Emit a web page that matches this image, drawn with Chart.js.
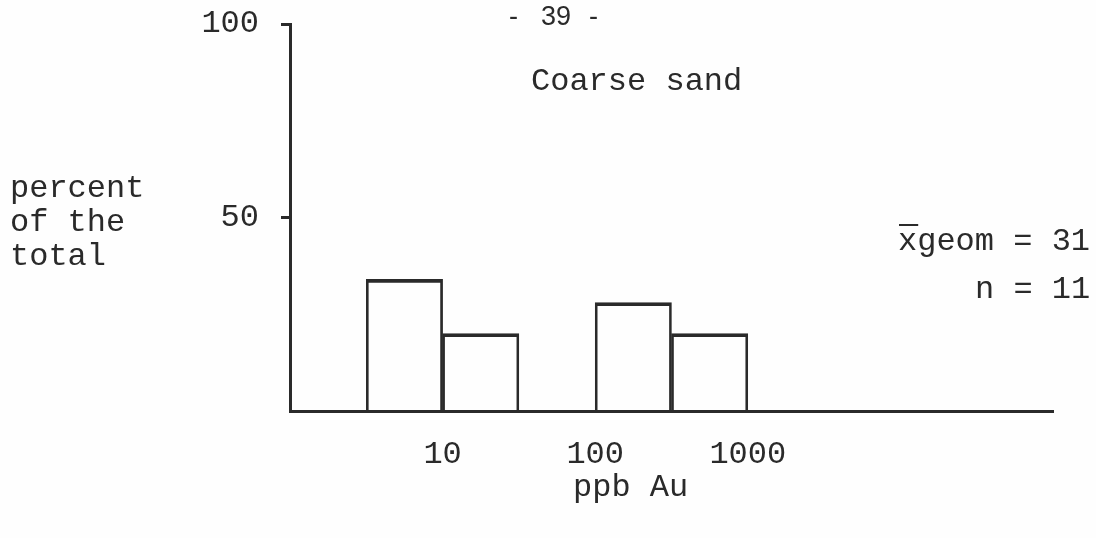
<!DOCTYPE html>
<html>
<head>
<meta charset="utf-8">
<title>Coarse sand - ppb Au</title>
<script src="https://cdn.jsdelivr.net/npm/chart.js@4.4.1/dist/chart.umd.min.js"></script>
<style>
  body { margin: 0; background: #fefefe; }
  #wrap { width: 1096px; height: 538px; }
</style>
</head>
<body>
<div id="wrap"><canvas id="histo" width="1096" height="538"></canvas></div>
<script>
// Histogram bins (ppb Au, half-decade classes) and share of samples in each
const binLow = [3.16, 10, 100, 316];
const binHigh = [10, 31.6, 316, 1000];
const percent = [34, 20, 28, 20];

// Axis ticks
const xTicks = [10, 100, 1000];
const yTicks = [50, 100];

// Annotation texts
const pageNo = ["-", "39", "-"];
const sampleName = "Coarse sand";
const yTitle = ["percent", "of the", "total"];
const xTitle = "ppb Au";
const meanText = "xgeom = 31";
const countText = "n = 11";

const INK = "#2a2a2a";
const MONO = "'Liberation Mono', 'DejaVu Sans Mono', monospace";

// bars sit at the geometric middle of each class
const barData = binLow.map((lo, i) => ({ x: Math.sqrt(lo * binHigh[i]), y: percent[i] }));

// Free text around the plot (typed page labels)
const textPlugin = {
  id: "typedText",
  beforeDraw(chart) {
    const ctx = chart.ctx;
    ctx.save();
    ctx.fillStyle = "#fefefe";
    ctx.fillRect(0, 0, chart.width, chart.height);
    ctx.restore();
  },
  afterDraw(chart) {
    const ctx = chart.ctx;
    ctx.save();
    ctx.fillStyle = INK;
    ctx.textBaseline = "alphabetic";
    ctx.textAlign = "left";

    // page number, spaced out like the typed header
    ctx.font = "27px 'Liberation Sans', Arial, sans-serif";
    ctx.fillText(pageNo[0], 509, 25);
    ctx.fillText(pageNo[1], 541, 25);
    ctx.fillText(pageNo[2], 589, 25);

    ctx.font = "32px " + MONO;
    ctx.fillText(sampleName, 531, 90);

    yTitle.forEach((line, i) => ctx.fillText(line, 10, 197 + i * 34));

    ctx.fillText(xTitle, 573, 496);
    ctx.fillText(meanText, 898, 250);
    ctx.fillText(countText, 975, 298);

    // bar over the x of the geometric mean
    const xw = ctx.measureText("x").width;
    ctx.strokeStyle = INK;
    ctx.lineWidth = 2;
    ctx.beginPath();
    ctx.moveTo(899, 225);
    ctx.lineTo(899 + xw, 225);
    ctx.stroke();
    ctx.restore();
  }
};

new Chart(document.getElementById("histo"), {
  type: "bar",
  data: {
    datasets: [{
      data: barData,
      backgroundColor: "rgba(0,0,0,0)",
      borderColor: INK,
      borderWidth: { top: 3, left: 2, right: 2, bottom: 0 },
      borderSkipped: "start",
      categoryPercentage: 1,
      barPercentage: 1
    }]
  },
  options: {
    responsive: false,
    animation: false,
    layout: { padding: { top: 24, right: 43, left: 0, bottom: 0 } },
    plugins: { legend: { display: false }, tooltip: { enabled: false } },
    scales: {
      x: {
        type: "logarithmic",
        min: 1,
        max: 100000,
        afterBuildTicks: s => { s.ticks = xTicks.map(v => ({ value: v })); },
        afterFit: s => { s.height = 127; s.paddingLeft = 0; s.paddingRight = 0; },
        grid: { display: false },
        border: { display: true, color: INK, width: 3 },
        ticks: {
          callback: v => String(v),
          color: INK,
          padding: 16,
          maxRotation: 0,
          autoSkip: false,
          font: { family: MONO, size: 32 }
        }
      },
      y: {
        min: 0,
        max: 100,
        afterBuildTicks: s => { s.ticks = yTicks.map(v => ({ value: v })); },
        afterFit: s => { s.width = 290; s.paddingTop = 0; s.paddingBottom = 0; },
        grid: { drawOnChartArea: false, drawTicks: true, tickLength: 9, color: INK, lineWidth: 3 },
        border: { display: true, color: INK, width: 3 },
        ticks: {
          color: INK,
          padding: 22,
          font: { family: MONO, size: 32 }
        }
      }
    }
  },
  plugins: [textPlugin]
});
</script>
</body>
</html>
